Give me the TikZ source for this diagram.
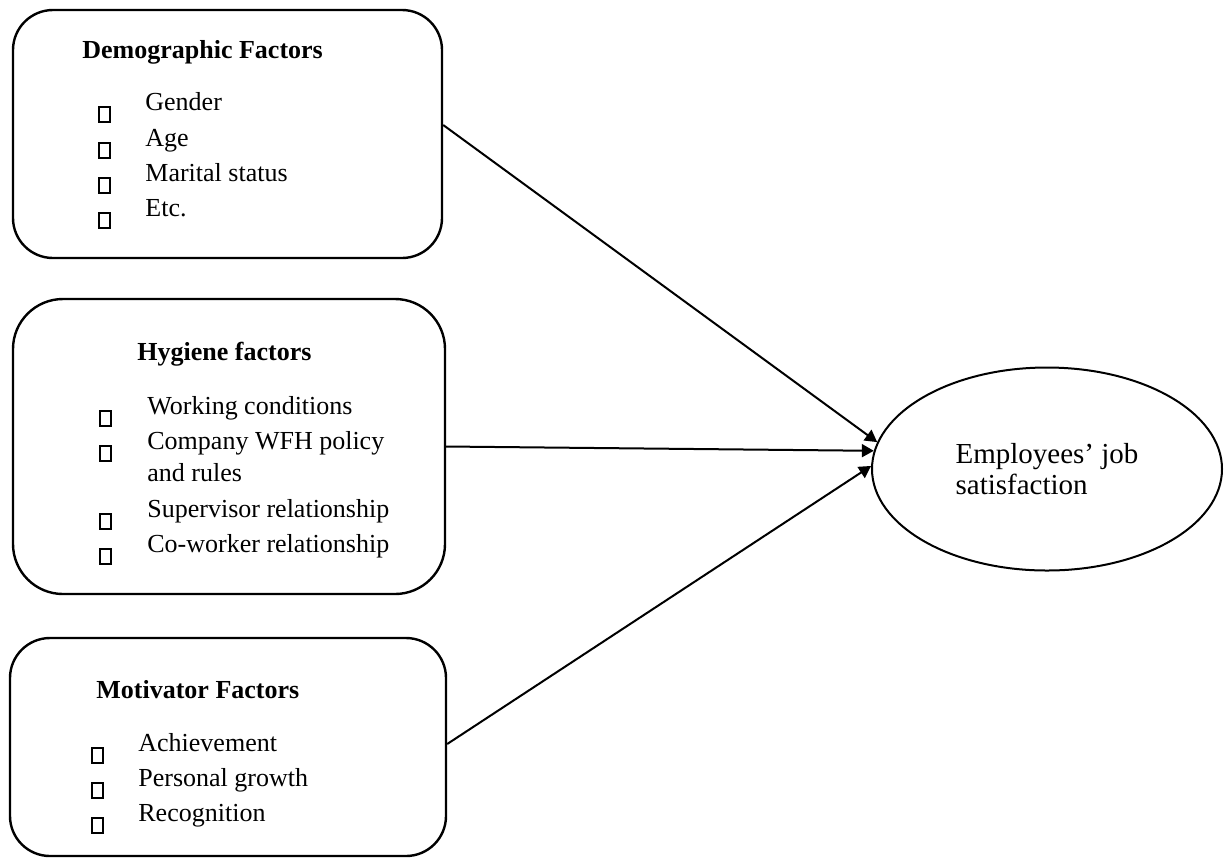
\documentclass[tikz,border=0pt]{standalone}
\usepackage{fontspec}
\setmainfont{Liberation Serif}
\usepackage{tikz}
\usetikzlibrary{arrows.meta}
\usetikzlibrary{shapes.geometric}

\tikzset{
    factorbox/.style = {draw, line width=1.2pt, inner sep=0pt},
    tofu/.style      = {draw, line width=1pt, inner sep=0pt, minimum width=5.5pt, minimum height=7.5pt},
    item/.style      = {anchor=base west, inner sep=0pt, font=\fontsize{13}{15}\selectfont},
    heading/.style   = {anchor=base west, inner sep=0pt, font=\fontsize{13}{15}\selectfont\bfseries},
    link/.style      = {line width=1pt, -{Triangle[length=6pt,width=6.5pt]}}
}

\begin{document}
\begin{tikzpicture}[x=0.5pt, y=-0.5pt]
            \useasboundingbox (0,0) rectangle (1225,858);

            \node[factorbox, rounded corners=20pt, minimum width=214.5pt, minimum height=124pt]   (demo)  at (227.5, 134.0) {};
            \node[factorbox, rounded corners=25pt, minimum width=216pt,   minimum height=147.5pt] (hyg)   at (229.0, 446.5) {};
            \node[factorbox, rounded corners=20pt, minimum width=218pt,   minimum height=109pt]   (motiv) at (228.0, 747.0) {};

            \node[heading] (demo-title)  at ( 82, 58) {Demographic Factors};
            \node[heading] (hyg-title)   at (137,360) {Hygiene factors};
            \node[heading] (motiv-title) at ( 96,698) {Motivator Factors};

            \foreach \n/\txt/\y in {g/Gender/110, a/Age/146, m/Marital status/181, e/Etc./216} {
                \node[tofu] (demo-\n-mark) at (104.0,\y+4) {};
                \node[item] (demo-\n)      at (145.0,\y) {\txt};
            }

            \foreach \n/\txt/\y in {w/Working conditions/414, c/Company WFH policy/449, s/Supervisor relationship/517, k/Co-worker relationship/552} {
                \node[tofu] (hyg-\n-mark) at (105.0,\y+4) {};
                \node[item] (hyg-\n)      at (147.0,\y) {\txt};
            }
            \node[item] (hyg-c2) at (147.0,481) {and rules};

            \foreach \n/\txt/\y in {a/Achievement/751, p/Personal growth/786, r/Recognition/821} {
                \node[tofu] (motiv-\n-mark) at ( 97.5,\y+4) {};
                \node[item] (motiv-\n)      at (138.0,\y) {\txt};
            }

            \node[draw, ellipse, line width=1pt, inner sep=0pt, minimum width=175pt, minimum height=101.5pt,
                  align=left, font=\fontsize{14.5}{15.5}\selectfont] (sat) at (1047,469)
                 {Employees’ job\\satisfaction};

            \draw[link] ([yshift=4.5pt]demo.east)  -- (sat.171.6);
            \draw[link] (hyg.east)                 -- (sat.174.8);
            \draw[link] ([yshift=1.5pt]motiv.east) -- (sat.179.3);
        \end{tikzpicture}
\end{document}
